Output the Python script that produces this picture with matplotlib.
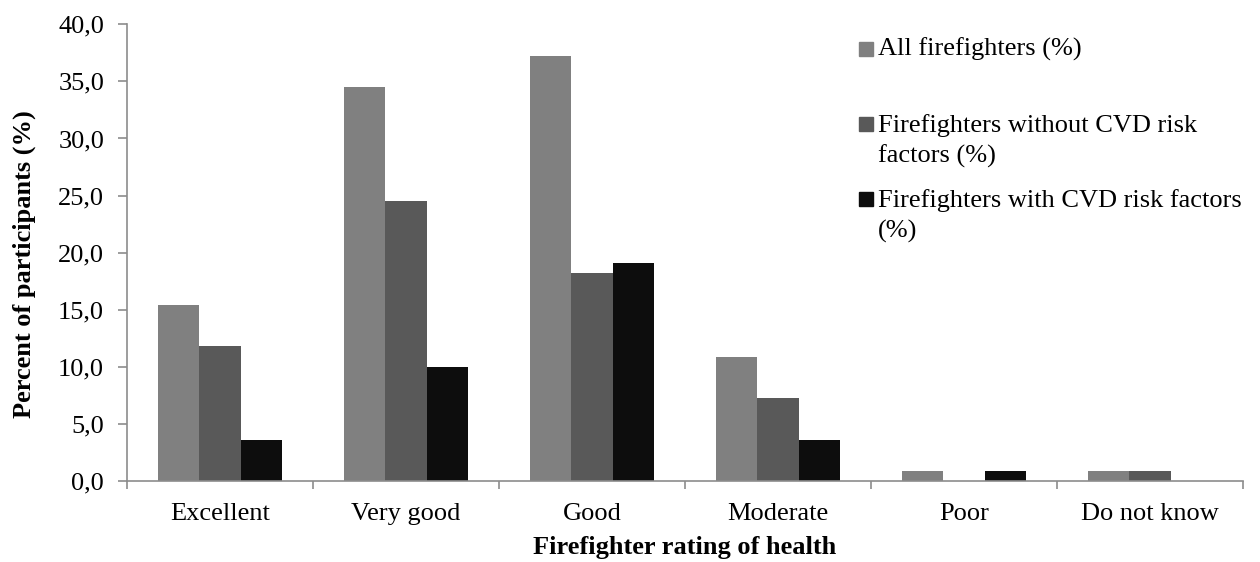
import matplotlib.pyplot as plt
import numpy as np
from matplotlib.patches import Rectangle
from matplotlib.ticker import FuncFormatter, FixedLocator

plt.rcParams['font.family'] = ['Liberation Serif', 'DejaVu Serif']

# Datos
categorias = ['Excellent', 'Very good', 'Good', 'Moderate', 'Poor', 'Do not know']
series = ['All firefighters (%)',
          'Firefighters without CVD risk\nfactors (%)',
          'Firefighters with CVD risk factors\n(%)']
todos = [15.4, 34.5, 37.2, 10.9, 0.9, 0.9]
sin_riesgo = [11.8, 24.5, 18.2, 7.3, 0.0, 0.9]
con_riesgo = [3.6, 10.0, 19.1, 3.6, 0.9, 0.0]
colores = ['#808080', '#595959', '#0d0d0d']

W, H = 1260.0, 562.0
fs = 19

fig = plt.figure(figsize=(W / 100, H / 100), dpi=100)
ax = fig.add_axes([127 / W, 1 - 481 / H, 1116 / W, 456.7 / H])

x = np.arange(len(categorias))
ancho = 2 / 9
for i, (valores, color) in enumerate(zip([todos, sin_riesgo, con_riesgo], colores)):
    ax.bar(x + (i - 1) * ancho, valores, ancho, color=color, edgecolor='none')

# Ejes
ax.set_xlim(-0.5, len(categorias) - 0.5)
ax.set_ylim(0, 40)
ax.set_yticks(np.arange(0, 41, 5))
ax.yaxis.set_major_formatter(FuncFormatter(lambda v, p: f'{v:.1f}'.replace('.', ',')))
ax.set_xticks(x)
ax.set_xticklabels(categorias)
ax.xaxis.set_minor_locator(FixedLocator(np.arange(-0.5, len(categorias), 1.0)))
ax.tick_params(axis='x', which='major', length=0, pad=15.5, labelsize=fs)
ax.tick_params(axis='x', which='minor', length=6, width=1.2, color='#8c8c8c', direction='out')
ax.tick_params(axis='y', length=6.5, width=1.2, color='#8c8c8c', direction='out', pad=10,
               labelsize=fs)

for lado in ['top', 'right']:
    ax.spines[lado].set_visible(False)
for lado in ['left', 'bottom']:
    ax.spines[lado].set_color('#8c8c8c')
    ax.spines[lado].set_linewidth(1.2)

ax.set_xlabel('Firefighter rating of health', fontsize=fs, fontweight='bold', va='top')
ax.xaxis.set_label_coords(0.5, -(536 - 481) / 456.7)
ax.set_ylabel('Percent of participants (%)', fontsize=fs, fontweight='bold', va='center')
ax.yaxis.set_label_coords(-(127 - 24) / 1116, (481 - 264) / 456.7)

# Leyenda
cuadros = [42, 117, 192]
textos = [38, 114, 189]
for top, ty, color, etiqueta in zip(cuadros, textos, colores, series):
    fig.patches.append(Rectangle((859 / W, 1 - (top + 14) / H), 14 / W, 14 / H,
                                 transform=fig.transFigure, color=color))
    fig.text(878 / W, 1 - ty / H, etiqueta, fontsize=fs, va='top', ha='left',
             linespacing=1.42)

plt.savefig('out.png')
